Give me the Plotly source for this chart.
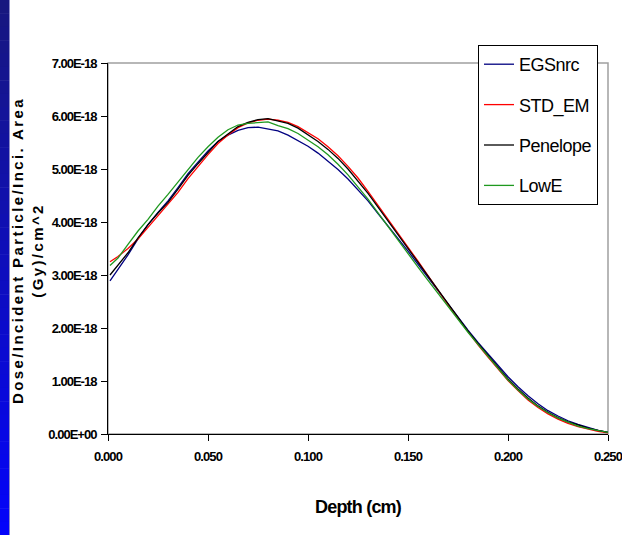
import plotly.graph_objects as go

# ---- data (dose in units of 1e-18 Gy/cm^2 per incident particle) ----
depth_cm = [0.001, 0.005, 0.010, 0.015, 0.020, 0.025, 0.030, 0.035, 0.040, 0.045,
            0.050, 0.055, 0.060, 0.065, 0.070, 0.075, 0.080, 0.085, 0.090, 0.095,
            0.100, 0.105, 0.110, 0.115, 0.120, 0.125, 0.130, 0.135, 0.140, 0.145,
            0.150, 0.155, 0.160, 0.165, 0.170, 0.175, 0.180, 0.185, 0.190, 0.195,
            0.200, 0.205, 0.210, 0.215, 0.220, 0.225, 0.230, 0.235, 0.240, 0.245,
            0.250]

egsnrc = [2.89, 3.10, 3.38, 3.68, 3.95, 4.18, 4.40, 4.65, 4.91, 5.13,
          5.34, 5.52, 5.64, 5.73, 5.78, 5.79, 5.76, 5.72, 5.64, 5.54,
          5.43, 5.30, 5.15, 4.99, 4.81, 4.61, 4.40, 4.16, 3.93, 3.70,
          3.45, 3.20, 2.95, 2.70, 2.45, 2.20, 1.96, 1.73, 1.51, 1.29,
          1.08, 0.89, 0.72, 0.57, 0.44, 0.34, 0.25, 0.18, 0.12, 0.07,
          0.03]

std_em = [3.25, 3.35, 3.50, 3.68, 3.90, 4.12, 4.32, 4.56, 4.82, 5.05,
          5.27, 5.48, 5.64, 5.78, 5.87, 5.92, 5.94, 5.92, 5.88, 5.80,
          5.69, 5.57, 5.42, 5.25, 5.05, 4.83, 4.58, 4.32, 4.06, 3.80,
          3.53, 3.26, 2.99, 2.71, 2.44, 2.18, 1.92, 1.68, 1.45, 1.23,
          1.01, 0.82, 0.64, 0.50, 0.38, 0.28, 0.20, 0.14, 0.09, 0.05,
          0.02]

penelope = [3.00, 3.18, 3.42, 3.70, 3.95, 4.17, 4.37, 4.62, 4.88, 5.10,
            5.32, 5.52, 5.66, 5.80, 5.88, 5.93, 5.95, 5.90, 5.86, 5.77,
            5.65, 5.52, 5.37, 5.20, 5.00, 4.78, 4.54, 4.28, 4.02, 3.76,
            3.50, 3.23, 2.97, 2.70, 2.44, 2.19, 1.94, 1.71, 1.48, 1.26,
            1.04, 0.85, 0.68, 0.53, 0.41, 0.31, 0.23, 0.17, 0.11, 0.07,
            0.03]

lowe = [3.18, 3.32, 3.58, 3.83, 4.05, 4.30, 4.52, 4.76, 5.00, 5.22,
        5.42, 5.60, 5.74, 5.83, 5.86, 5.88, 5.89, 5.82, 5.76, 5.67,
        5.55, 5.42, 5.27, 5.09, 4.89, 4.67, 4.43, 4.17, 3.91, 3.66,
        3.40, 3.15, 2.90, 2.65, 2.40, 2.16, 1.92, 1.69, 1.46, 1.24,
        1.02, 0.83, 0.66, 0.52, 0.40, 0.30, 0.22, 0.15, 0.10, 0.06,
        0.03]

series_names = ["EGSnrc", "STD_EM", "Penelope", "LowE"]
series_values = [egsnrc, std_em, penelope, lowe]
series_colors = ["#000080", "#ff0000", "#000000", "#1f991f"]

x_tickvals = [0.0, 0.05, 0.10, 0.15, 0.20, 0.25]
x_ticktext = ["0.000", "0.050", "0.100", "0.150", "0.200", "0.250"]
y_tickvals = [0, 1e-18, 2e-18, 3e-18, 4e-18, 5e-18, 6e-18, 7e-18]
y_ticktext = ["0.00E+00", "1.00E-18", "2.00E-18", "3.00E-18",
              "4.00E-18", "5.00E-18", "6.00E-18", "7.00E-18"]

SCALE = 1e-18
SANS = "Liberation Sans, Arial, sans-serif"

def tight(s, ls):
    return f'<span style="letter-spacing:{ls}px">{s}</span>'

W, H = 622, 535
ML, MR, MT, MB = 108, 14, 63, 101
PW, PH = W - ML - MR, H - MT - MB

def px_to_paper_x(px):
    return (px - ML) / PW

def px_to_paper_y(py):
    return (H - MB - py) / PH

fig = go.Figure()
for name, vals, col in zip(series_names, series_values, series_colors):
    fig.add_trace(go.Scatter(
        x=depth_cm, y=[v * SCALE for v in vals], mode="lines", name=tight(name, -0.5),
        legendgroup=name, line=dict(color=col, width=1.3)))

shapes = []
# blue gradient strip on the left edge (slide decoration)
n = 40
for i in range(n):
    t = i / (n - 1)
    r = int(24 * (1 - t) + 4 * t)
    g = int(24 * (1 - t) + 4 * t)
    b = int(128 * (1 - t) + 250 * t)
    shapes.append(dict(type="rect", xref="paper", yref="paper",
                       x0=px_to_paper_x(0), x1=px_to_paper_x(9),
                       y0=px_to_paper_y(H * (i + 1) / n + 0.5), y1=px_to_paper_y(H * i / n),
                       fillcolor=f"rgb({r},{g},{b})", line=dict(width=0), layer="below"))
shapes.append(dict(type="line", xref="paper", yref="paper",
                   x0=px_to_paper_x(9.5), x1=px_to_paper_x(9.5),
                   y0=px_to_paper_y(H), y1=px_to_paper_y(0),
                   line=dict(color="#8c8cc8", width=1), layer="below"))
# grey plot-area frame
shapes.append(dict(type="rect", xref="paper", yref="paper", x0=0, x1=1, y0=0, y1=1,
                   line=dict(color="#a0a0a0", width=1.5), layer="below"))

tickfont = dict(family=SANS, size=13, color="black", weight="bold")

fig.update_layout(
    width=W, height=H,
    margin=dict(l=ML, r=MR, t=MT, b=MB, pad=0, autoexpand=False),
    paper_bgcolor="white", plot_bgcolor="white",
    showlegend=True,
    legend=dict(x=px_to_paper_x(478), y=px_to_paper_y(45), xanchor="left", yanchor="top",
                bgcolor="white", bordercolor="black", borderwidth=1,
                font=dict(family=SANS, size=18, color="black"),
                tracegroupgap=14, itemwidth=30),
    shapes=shapes,
    xaxis=dict(range=[0, 0.25], tickvals=x_tickvals,
               ticktext=[tight(t, -0.9) for t in x_ticktext],
               showgrid=False, zeroline=False, showline=True, linecolor="black", linewidth=1,
               ticks="outside", ticklen=6, tickcolor="black", tickwidth=1, automargin=False,
               ticklabeloverflow="allow", ticklabelstandoff=4, tickfont=tickfont),
    yaxis=dict(range=[0, 7e-18], tickvals=y_tickvals,
               ticktext=[tight(t, -1.0) for t in y_ticktext],
               showgrid=False, zeroline=False, showline=True, linecolor="black", linewidth=1,
               ticks="outside", ticklen=6, tickcolor="black", tickwidth=1, automargin=False,
               ticklabeloverflow="allow", ticklabelstandoff=2, tickfont=tickfont),
    annotations=[
        dict(text=tight("Depth (cm)", -0.8), xref="paper", yref="paper", x=0.5, y=px_to_paper_y(507),
             xanchor="center", yanchor="middle", showarrow=False,
             font=dict(family=SANS, size=18, color="black", weight="bold")),
        dict(text='<span style="letter-spacing:2.4px">Dose/Incident Particle/Inci. Area'
                  '<br>(Gy)/cm^2</span>',
             xref="paper", yref="paper", x=px_to_paper_x(28), y=px_to_paper_y(251),
             xanchor="center", yanchor="middle", showarrow=False, textangle=-90,
             font=dict(family=SANS, size=15, color="black", weight="bold")),
    ],
)

fig.write_html("out.html")
